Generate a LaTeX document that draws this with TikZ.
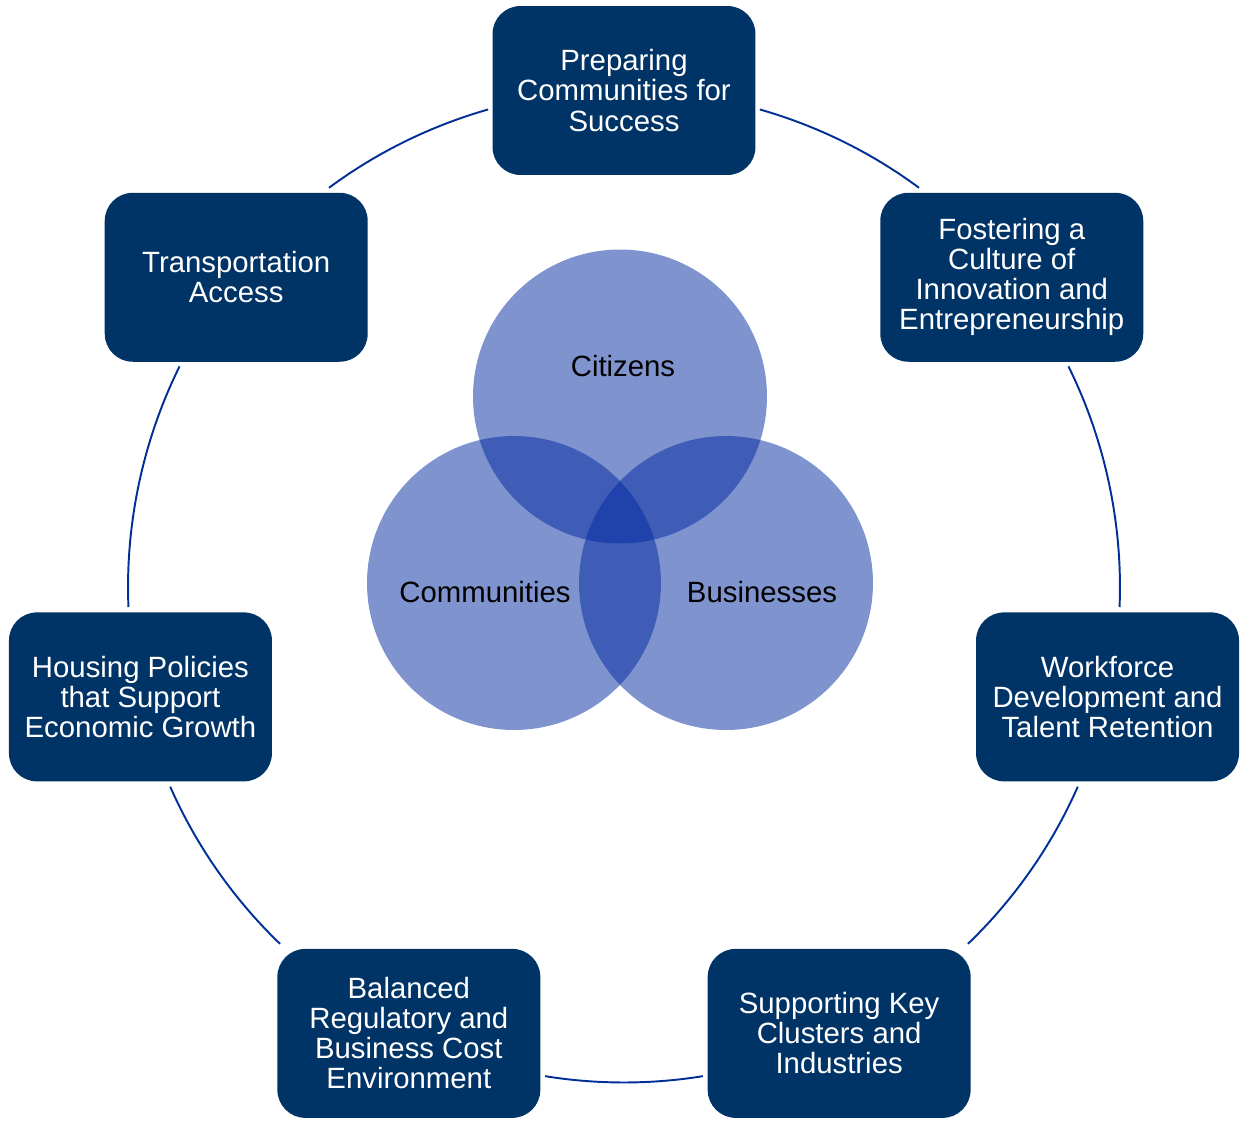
\documentclass[tikz,border=0pt]{standalone}
\usepackage{fontspec}
\setmainfont{Liberation Sans}
\definecolor{navy}{RGB}{0,51,102}
\definecolor{ringblue}{RGB}{0,48,150}
\definecolor{vennblue}{RGB}{0,40,160}
\tikzstyle{goal}=[fill=navy, text=white, rounded corners=0.56cm, minimum width=5.26cm, minimum height=3.38cm, inner sep=0pt, align=center, font=\fontsize{16.7}{17.1}\selectfont]
\tikzstyle{venn}=[circle, fill=vennblue, fill opacity=0.5, minimum size=5.88cm, inner sep=0pt]
\tikzstyle{vlabel}=[text=black, font=\fontsize{16.7}{17.1}\selectfont]
\tikzstyle{ring}=[draw=ringblue, line width=1.1pt, looseness=0.86]

\begin{document}
\begin{tikzpicture}[x=0.02cm, y=0.02cm]
    \useasboundingbox (-624,-538.5) rectangle (616,586.5);
    % centre
    \node[venn] (cit) at (-4, 190) {};
    \node[venn] (com) at (-110, 3.5) {};
    \node[venn] (bus) at (102, 3.5) {};
    \node[vlabel] (citl) at (-1, 220.5) {Citizens};
    \node[vlabel] (coml) at (-139, -5.5) {Communities};
    \node[vlabel] (busl) at (138, -5.5) {Businesses};
    % ring
    \node[goal] (prep)  at (90:496)      {Preparing\\Communities for\\Success};
    \node[goal] (fost)  at (38.57:496)   {Fostering a\\Culture of\\Innovation and\\Entrepreneurship};
    \node[goal] (work)  at (-12.86:496)  {Workforce\\Development and\\Talent Retention};
    \node[goal] (supp)  at (-64.29:496)  {Supporting Key\\Clusters and\\Industries};
    \node[goal] (bal)   at (-115.71:496) {Balanced\\Regulatory and\\Business Cost\\Environment};
    \node[goal] (hous)  at (-167.14:496) {Housing Policies\\that Support\\Economic Growth};
    \node[goal] (trans) at (141.43:496)  {Transportation\\Access};
    \coordinate (prep-e)  at (74.1:496);
    \coordinate (fost-n)  at (53.5:496);
    \coordinate (fost-s)  at (26.35:496);
    \coordinate (work-n)  at (-2.37:496);
    \coordinate (work-s)  at (-23.8:496);
    \coordinate (supp-n)  at (-46.1:496);
    \coordinate (supp-w)  at (-80.85:496);
    \coordinate (bal-e)   at (-99.15:496);
    \coordinate (bal-n)   at (-133.9:496);
    \coordinate (hous-s)  at (-156.2:496);
    \coordinate (hous-n)  at (-177.63:496);
    \coordinate (trans-s) at (153.65:496);
    \coordinate (trans-n) at (126.5:496);
    \coordinate (prep-w)  at (105.9:496);
    \draw[ring] (prep-e) to[bend left=10.3] (fost-n);
    \draw[ring] (fost-s) to[bend left=14.36] (work-n);
    \draw[ring] (work-s) to[bend left=11.15] (supp-n);
    \draw[ring] (supp-w) to[bend left=9.15] (bal-e);
    \draw[ring] (bal-n) to[bend left=11.15] (hous-s);
    \draw[ring] (hous-n) to[bend left=14.36] (trans-s);
    \draw[ring] (trans-n) to[bend left=10.3] (prep-w);
\end{tikzpicture}
\end{document}
